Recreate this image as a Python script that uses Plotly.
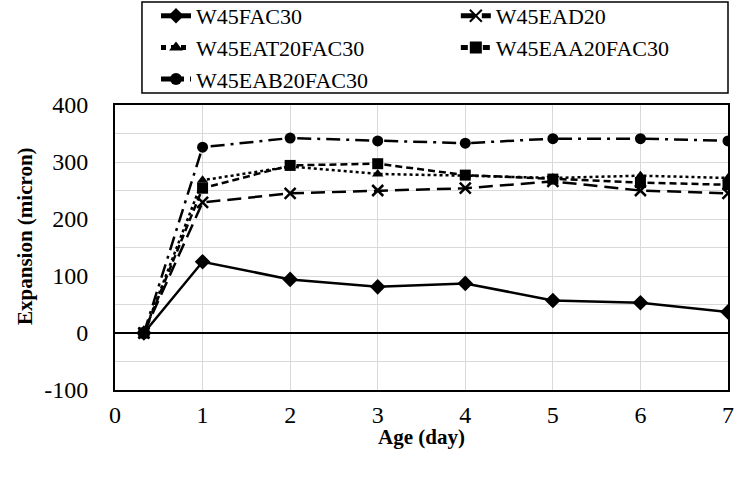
import plotly.graph_objects as go

ages = [0.33, 1, 2, 3, 4, 5, 6, 7]
names = ["W45FAC30", "W45EAD20", "W45EAT20FAC30", "W45EAA20FAC30", "W45EAB20FAC30"]
w45fac30 = [0, 125, 94, 81, 87, 57, 53, 37]
w45ead20 = [0, 229, 245, 250, 254, 266, 250, 245]
w45eat20fac30 = [0, 268, 292, 279, 276, 272, 276, 272]
w45eaa20fac30 = [0, 254, 294, 297, 277, 270, 264, 260]
w45eab20fac30 = [0, 326, 342, 337, 333, 341, 341, 337]
y_ticks = [-100, 0, 100, 200, 300, 400]
y_ticktext = ["-100", "0", "100", "200", "300", "400"]
x_ticks = [0, 1, 2, 3, 4, 5, 6, 7]
x_title = "Age (day)"
y_title = "Expansion (micron)"

series = [w45fac30, w45ead20, w45eat20fac30, w45eaa20fac30, w45eab20fac30]
symbols = ["diamond", "x-thin", "triangle-up", "square", "circle"]
sizes = [12, 11, 10, 11, 11]
dashes = ["solid", "14px,7px", "dot", "7px,4px", "14px,6px,3px,6px"]
legend_ids = ["legend", "legend2", "legend", "legend2", "legend"]

fig = go.Figure()
for nm, ys, sym, sz, ds, lg in zip(names, series, symbols, sizes, dashes, legend_ids):
    fig.add_trace(go.Scatter(
        x=ages, y=ys, name=nm, mode="lines+markers", legend=lg,
        line=dict(color="black", width=2.5, dash=ds),
        marker=dict(symbol=sym, size=sz, color="black",
                    line=dict(color="black", width=2.5 if sym == "x-thin" else 0)),
    ))

font = "Liberation Serif"
leg_common = dict(
    orientation="v", yanchor="top", xanchor="left", y=1.386,
    bgcolor="rgba(0,0,0,0)", borderwidth=0,
    font=dict(family=font, size=22, color="black"),
    tracegroupgap=0, itemsizing="constant",
)
fig.update_layout(
    width=735, height=477,
    margin=dict(l=115, r=7, t=105, b=87, autoexpand=False),
    paper_bgcolor="white", plot_bgcolor="white",
    font=dict(family=font, size=22, color="black"),
    legend=dict(x=0.0669, **leg_common),
    legend2=dict(x=0.556, **leg_common),
    shapes=[dict(type="rect", xref="paper", yref="paper",
                 x0=0.044, x1=1.0, y0=1.042, y1=1.361,
                 line=dict(color="black", width=1.5), fillcolor="rgba(0,0,0,0)")],
    annotations=[
        dict(text=f"<b>{x_title}</b>", xref="paper", yref="paper", x=0.5, y=-0.165,
             xanchor="center", yanchor="middle", showarrow=False,
             font=dict(family=font, size=21, color="black")),
        dict(text=f"<b>{y_title}</b>", xref="paper", yref="paper", x=-0.147, y=0.54,
             xanchor="center", yanchor="middle", showarrow=False, textangle=-90,
             font=dict(family=font, size=21, color="black")),
    ],
    xaxis=dict(
        range=[0, 7], tickvals=x_ticks, automargin=False,
        showgrid=True, gridcolor="#d9d9d9", gridwidth=1,
        showline=True, linecolor="black", linewidth=2, mirror=True,
        zeroline=False, ticks="outside", ticklen=2, tickcolor="rgba(0,0,0,0)",
        tickfont=dict(family=font, size=24),
    ),
    yaxis=dict(
        range=[-100, 400], tickvals=y_ticks, ticktext=y_ticktext, automargin=False,
        showgrid=True, gridcolor="#d9d9d9", gridwidth=1,
        minor=dict(dtick=50, showgrid=True, gridcolor="#d9d9d9", gridwidth=1),
        showline=True, linecolor="black", linewidth=2, mirror=True,
        zeroline=True, zerolinecolor="black", zerolinewidth=2,
        ticks="outside", ticklen=20, tickcolor="rgba(0,0,0,0)",
        tickfont=dict(family=font, size=24),
    ),
)
fig.write_html("out.html")
